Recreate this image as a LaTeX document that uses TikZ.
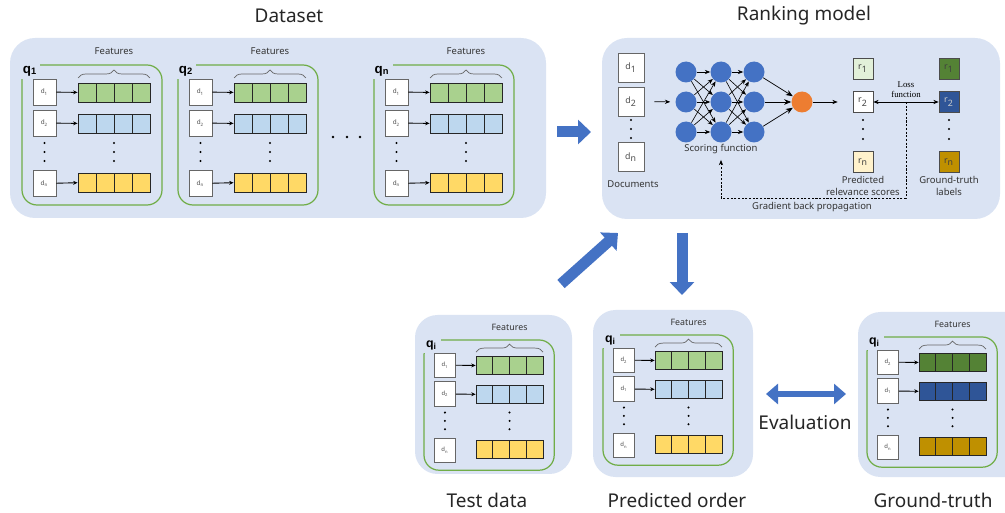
\documentclass[tikz,border=0pt]{standalone}
\usepackage{fontspec}
\setmainfont{Noto Sans}
\newfontfamily\lossfont{Liberation Serif}
\newfontfamily\qfont{Liberation Sans}
\usetikzlibrary{arrows.meta,decorations.pathreplacing}

\definecolor{panelblue}{HTML}{DAE3F3}
\definecolor{framegreen}{HTML}{70AD47}
\definecolor{featgreen}{HTML}{A9D18E}
\definecolor{featblue}{HTML}{BDD7EE}
\definecolor{featyellow}{HTML}{FFD966}
\definecolor{truegreen}{HTML}{548235}
\definecolor{trueblue}{HTML}{2F5597}
\definecolor{truegold}{HTML}{BF9000}
\definecolor{arrowblue}{HTML}{4472C4}
\definecolor{neuronorange}{HTML}{ED7D31}
\definecolor{scoregreen}{HTML}{E2F0D9}
\definecolor{scoreyellow}{HTML}{FFF2CC}

\tikzset{
  panel/.style={fill=panelblue, draw=none, rounded corners=0.45cm},
  qframe/.style={draw=framegreen, line width=0.7pt, rounded corners=0.3cm},
  qlabel/.style={fill=panelblue, inner sep=0pt, minimum width=0.42cm, minimum height=0.34cm, font=\qfont\fontsize{7.6}{8.5}\selectfont\bfseries},
  docbox/.style={draw=black!60, fill=white, inner sep=0pt, minimum width=0.46cm, minimum height=0.52cm, font=\fontsize{3.6}{4}\selectfont, text=black!70},
  cell/.style={draw=black!85, line width=0.5pt, inner sep=0pt, minimum width=0.36cm, minimum height=0.38cm},
  doclink/.style={-{Stealth[length=2.5pt, width=2.2pt]}, line width=0.5pt},
  featbrace/.style={decorate, decoration={brace, amplitude=0.16cm}, draw=black!60, line width=0.4pt},
  smalltext/.style={font=\fontsize{5.4}{6.6}\selectfont, text=black!80},
  titletext/.style={font=\fontsize{10.8}{12}\selectfont, text=black!85},
  fat/.style={draw=arrowblue, line width=0.22cm, -{Triangle[length=0.26cm, width=0.48cm]}},
  neuron/.style={circle, fill=arrowblue, inner sep=0pt, minimum size=0.42cm},
  link/.style={-{Stealth[length=3pt, width=2.4pt]}, line width=0.35pt},
  mdoc/.style={docbox, minimum width=0.52cm, minimum height=0.58cm, font=\fontsize{5}{6}\selectfont},
  sbox/.style={draw=black!70, inner sep=0pt, minimum width=0.4cm, minimum height=0.42cm, font=\fontsize{5}{6}\selectfont, text=black!75},
}

% one query: green frame, documents and their feature vectors
\newcommand{\qgroup}[7]{%
  \draw[qframe] (0,0) rectangle (140,140);
  \node[qlabel] (#1q) at (8,6) {#2};
  \node[docbox] (#1d1) at (22.5,27) {#3};
  \node[docbox] (#1d2) at (22.5,58) {#4};
  \node[docbox] (#1dn) at (22.5,118.5) {d\textsubscript{n}};
  \foreach \k/\yy/\cc in {1/27.5/#5, 2/58.5/#6, n/117.5/#7}{
    \foreach \m/\xx in {1/65,2/83,3/101,4/119}
      \node[cell, fill=\cc] (#1b\k\m) at (\xx,\yy) {};
  }
  \foreach \yy in {78,87,96}{
    \fill (22.5,\yy) circle (0.7pt);
    \fill (92,\yy) circle (0.7pt);
  }
  \draw[featbrace] (56,13) -- (128,13);
  \node[smalltext] (#1feat) at (92,-14) {Features};
  \draw[doclink] (#1d1) -- (#1b11);
  \draw[doclink] (#1d2) -- (#1b21);
}

\begin{document}
\begin{tikzpicture}[x=0.02cm, y=-0.02cm]
\path[use as bounding box, clip] (0,0) rectangle (1005,513);

% panels
\fill[panel, rounded corners=0.5cm] (10,38) rectangle (546,218);
\fill[panel, rounded corners=0.5cm] (602,38) rectangle (1000,219);
\fill[panel] (415,315) rectangle (572,474);
\fill[panel] (593,310) rectangle (753,477);
\fill[panel] (858,312) rectangle (1040,477);

\node[titletext] (tdata) at (289,16) {Dataset};
\node[titletext] (tmodel) at (804,16) {Ranking model};
\node[titletext] (ttest) at (487,500) {Test data};
\node[titletext] (tpred) at (677,500) {Predicted order};
\node[titletext] (ttrue) at (933,500) {Ground-truth};

% dataset
\begin{scope}[shift={(22,65)}]
  \qgroup{a}{q\textsubscript{1}}{d\textsubscript{1}}{d\textsubscript{2}}{featgreen}{featblue}{featyellow}
  \draw[doclink] (adn) -- (abn1);
\end{scope}
\begin{scope}[shift={(178,65)}]
  \qgroup{b}{q\textsubscript{2}}{d\textsubscript{1}}{d\textsubscript{2}}{featgreen}{featblue}{featyellow}
  \draw[doclink] (bdn) -- (bbn1);
\end{scope}
\begin{scope}[shift={(374,65)}]
  \qgroup{c}{q\textsubscript{n}}{d\textsubscript{1}}{d\textsubscript{2}}{featgreen}{featblue}{featyellow}
  \draw[doclink] (cdn) -- (cbn1);
\end{scope}
\foreach \xx in {333,347,360}
  \fill (\xx,137) circle (0.8pt);

% test data, predicted order, ground truth
\begin{scope}[shift={(424,340)}, scale=0.93, transform shape]
  \qgroup{t}{q\textsubscript{i}}{d\textsubscript{1}}{d\textsubscript{2}}{featgreen}{featblue}{featyellow}
\end{scope}
\begin{scope}[shift={(603,335)}, scale=0.93, transform shape]
  \qgroup{p}{q\textsubscript{i}}{d\textsubscript{2}}{d\textsubscript{1}}{featgreen}{featblue}{featyellow}
\end{scope}
\begin{scope}[shift={(867,337)}, scale=0.93, transform shape]
  \qgroup{g}{q\textsubscript{i}}{d\textsubscript{2}}{d\textsubscript{1}}{truegreen}{trueblue}{truegold}
\end{scope}

% ranking model
\node[mdoc] (md1) at (631,67.5) {d\textsubscript{1}};
\node[mdoc] (md2) at (631,101.5) {d\textsubscript{2}};
\node[mdoc] (mdn) at (631,157) {d\textsubscript{n}};
\foreach \yy in {120,129,138}
  \fill (631,\yy) circle (0.7pt);
\node[smalltext] (mdocs) at (633,184) {Documents};

\foreach \l/\xx in {1/686,2/721,3/754}
  \foreach \r/\yy in {1/72,2/102,3/132}
    \node[neuron] (n\l\r) at (\xx,\yy) {};
\node[neuron, fill=neuronorange] (out) at (802,102) {};
\foreach \i in {1,2,3}
  \foreach \j in {1,2,3}{
    \draw[link] (n1\i) -- (n2\j);
    \draw[link] (n2\i) -- (n3\j);
  }
\foreach \r in {1,2,3}
  \draw[-{Stealth[length=4pt, width=3.2pt]}, line width=0.4pt] (n3\r) -- (out);
\node[smalltext] (sf) at (721,149) {Scoring function};
\draw[link, shorten <=0.2cm, shorten >=0.1cm] (md2) -- (n12);

\node[sbox, fill=scoregreen] (pr1) at (863,68.5) {r\textsubscript{1}};
\node[sbox, fill=white] (pr2) at (863,102) {r\textsubscript{2}};
\node[sbox, fill=scoreyellow] (prn) at (863,162) {r\textsubscript{n}};
\node[sbox, fill=truegreen] (gt1) at (949,68.5) {r\textsubscript{1}};
\node[sbox, fill=trueblue, text=white!80!black] (gt2) at (949,102) {r\textsubscript{2}};
\node[sbox, fill=truegold] (gtn) at (949,162) {r\textsubscript{n}};
\foreach \yy in {120,129,139}{
  \fill (863,\yy) circle (0.7pt);
  \fill (949,\yy) circle (0.7pt);
}
\node[smalltext, align=center] (prlab) at (863,186) {Predicted\\relevance scores};
\node[smalltext, align=center] (gtlab) at (949,186) {Ground-truth\\labels};
\draw[link, shorten >=0.3cm] (out) -- (pr2);
\draw[{Stealth[length=3pt, width=2.4pt]}-{Stealth[length=3pt, width=2.4pt]}, line width=0.4pt] (pr2) -- node[above=-1pt, align=center, font=\lossfont\fontsize{5}{5.6}\selectfont] {Loss\\function} coordinate (lm) (gt2);
\draw[dash pattern=on 1.2pt off 0.9pt, line width=0.4pt, -{Stealth[length=3pt, width=2.4pt]}] (lm) -- ++(0,96) -| (sf);
\node[smalltext] (gbp) at (812,207) {Gradient back propagation};

% big arrows
\coordinate (dsout) at (557,132);
\coordinate (rmin) at (591,132);
\coordinate (testout) at (561,284);
\coordinate (rmtest) at (618,233);
\coordinate (rmout) at (682,233);
\coordinate (predin) at (682,295);
\coordinate (evl) at (766,394);
\coordinate (evr) at (846,394);
\draw[fat] (dsout) -- (rmin);
\draw[fat] (testout) -- (rmtest);
\draw[fat] (rmout) -- (predin);
\draw[draw=arrowblue, line width=0.14cm, {Triangle[length=0.24cm, width=0.4cm]}-{Triangle[length=0.24cm, width=0.4cm]}] (evl) -- (evr);
\node[titletext] (eval) at (805,422) {Evaluation};
\end{tikzpicture}
\end{document}
